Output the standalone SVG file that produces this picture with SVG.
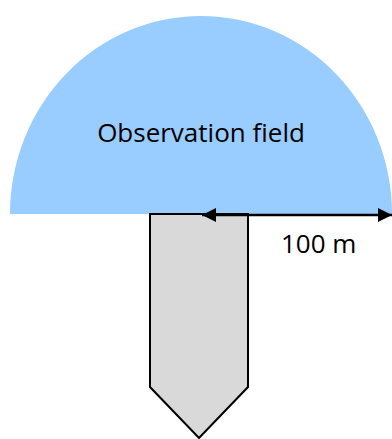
<svg xmlns="http://www.w3.org/2000/svg" width="392" height="439" viewBox="0 0 392 439">
<style>
.lbl{font-family:"Open Sans","Liberation Sans",sans-serif;font-size:26px;fill:#000}
</style>
<defs>
<marker id="ah" viewBox="0 0 14 14" refX="14" refY="7" markerWidth="14" markerHeight="14" markerUnits="userSpaceOnUse" orient="auto-start-reverse">
<path d="M0,0 L14,7 L0,14 Z" fill="#000"/>
</marker>
</defs>
<g id="field">
<path d="M10,214 A191,198 0 0 1 392,214 Z" fill="#99CCFF"/>
<text class="lbl" x="201" y="142" text-anchor="middle">Observation field</text>
</g>
<g id="probe">
<path d="M150,214 L248,214 L248,387 L199,438 L150,387 Z" fill="#D9D9D9" stroke="#000" stroke-width="2" stroke-linejoin="miter"/>
</g>
<g id="connectors">
<line x1="202" y1="215" x2="392" y2="215" stroke="#000" stroke-width="2.5" marker-start="url(#ah)" marker-end="url(#ah)"/>
</g>
<text class="lbl" x="281" y="253">100 m</text>
</svg>
